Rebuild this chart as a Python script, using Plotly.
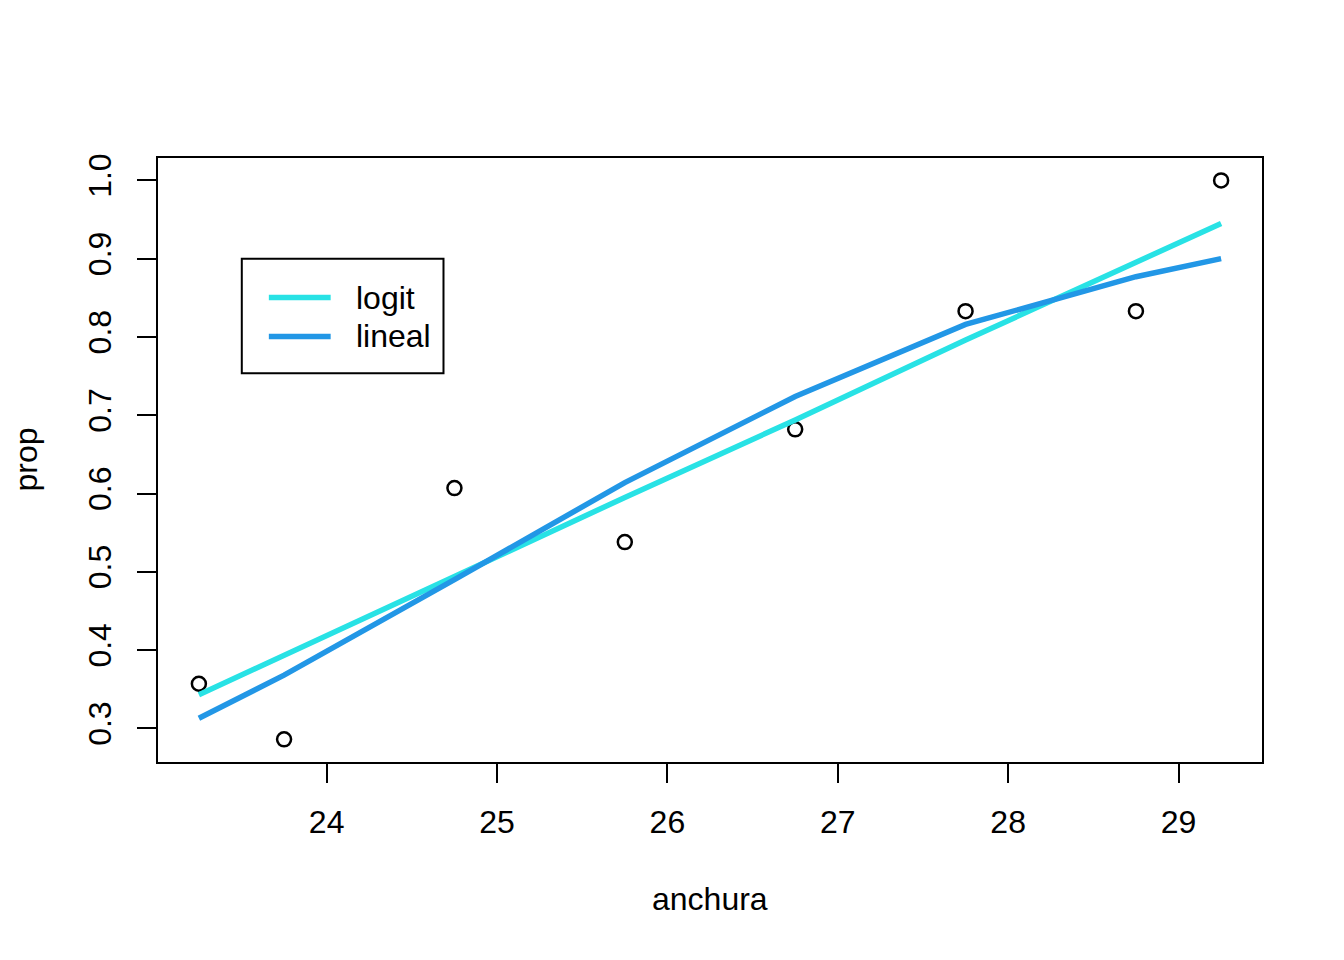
import plotly.graph_objects as go

# datos: proporcion observada por grupo de anchura
anchura = [23.25, 23.75, 24.75, 25.75, 26.75, 27.75, 28.75, 29.25]
prop = [0.357, 0.286, 0.607, 0.538, 0.682, 0.833, 0.833, 1.0]

# valores ajustados
ajuste_logit = [0.343, 0.393, 0.494, 0.595, 0.694, 0.796, 0.896, 0.945]
ajuste_lineal = [0.313, 0.368, 0.490, 0.614, 0.724, 0.816, 0.877, 0.900]

x_ticks = [24, 25, 26, 27, 28, 29]
y_ticks = [0.3, 0.4, 0.5, 0.6, 0.7, 0.8, 0.9, 1.0]

fuente = "Liberation Sans, Arial, sans-serif"
col_logit = "#28E2E5"
col_lineal = "#2297E6"

fig = go.Figure()

fig.add_trace(go.Scatter(
    x=anchura, y=prop, mode="markers",
    marker=dict(symbol="circle-open", size=14, color="black", line=dict(width=2.5)),
    showlegend=False
))
fig.add_trace(go.Scatter(
    x=anchura, y=ajuste_logit, mode="lines", name="logit",
    line=dict(color=col_logit, width=5.5), showlegend=False
))
fig.add_trace(go.Scatter(
    x=anchura, y=ajuste_lineal, mode="lines", name="lineal",
    line=dict(color=col_lineal, width=5.5), showlegend=False
))

# leyenda estilo R (caja, segmentos y textos)
shapes = [
    dict(type="rect", xref="paper", yref="paper", x0=0.0759, x1=0.2586, y0=0.6436, y1=0.8333,
         line=dict(color="black", width=2), fillcolor="white", layer="above"),
    dict(type="line", xref="paper", yref="paper", x0=0.1004, x1=0.1564, y0=0.769, y1=0.769,
         line=dict(color=col_logit, width=5.5), layer="above"),
    dict(type="line", xref="paper", yref="paper", x0=0.1004, x1=0.1564, y0=0.7046, y1=0.7046,
         line=dict(color=col_lineal, width=5.5), layer="above"),
]

fig.update_layout(
    width=1344, height=960,
    margin=dict(l=150, r=90, t=150, b=206),
    paper_bgcolor="white", plot_bgcolor="white",
    font=dict(family=fuente, size=32, color="black"),
    shapes=shapes,
    annotations=[
        dict(text="logit", x=0.1772, y=0.769, xref="paper", yref="paper",
             showarrow=False, xanchor="left", yanchor="middle"),
        dict(text="lineal", x=0.1772, y=0.7046, xref="paper", yref="paper",
             showarrow=False, xanchor="left", yanchor="middle"),
        dict(text="anchura", x=0.5, y=-0.227, xref="paper", yref="paper",
             showarrow=False, yanchor="middle"),
        dict(text="prop", x=-0.12, y=0.5, xref="paper", yref="paper",
             showarrow=False, textangle=-90, xanchor="center"),
    ],
)

fig.update_xaxes(
    range=[23.01, 29.49], tickvals=x_ticks, ticktext=[str(v) for v in x_ticks],
    showgrid=False, zeroline=False, showline=True, mirror=True,
    linecolor="black", linewidth=2, ticks="outside", ticklen=19, tickwidth=2,
    tickcolor="black", ticklabelstandoff=12,
)
fig.update_yaxes(
    range=[0.2571, 1.0286], tickvals=y_ticks, ticktext=[f"{v:.1f}" for v in y_ticks],
    showgrid=False, zeroline=False, showline=True, mirror=True,
    linecolor="black", linewidth=2, ticks="outside", ticklen=19, tickwidth=2,
    tickcolor="black", tickangle=-90, ticklabelstandoff=13,
)

fig.write_html("out.html")
